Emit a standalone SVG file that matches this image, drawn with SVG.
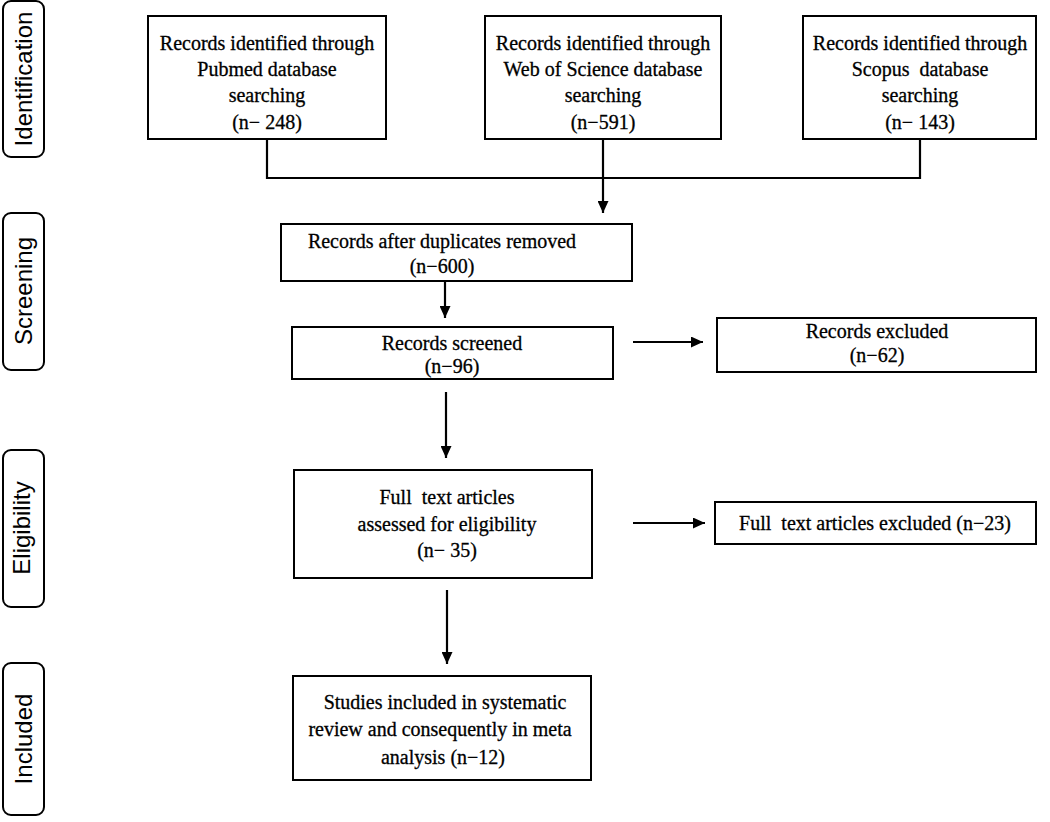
<svg xmlns="http://www.w3.org/2000/svg" width="1050" height="822" viewBox="0 0 1050 822">
<style>
.box{fill:#fff;stroke:#000;stroke-width:2}
.lab{fill:#fff;stroke:#000;stroke-width:2}
.t{font-family:"Liberation Serif","Times New Roman",serif;font-size:20px;fill:#000;stroke:#000;stroke-width:0.3;text-anchor:middle;white-space:pre}
.lt{font-family:"Liberation Sans",Arial,sans-serif;font-size:24px;fill:#000;text-anchor:middle}
.c{fill:none;stroke:#000;stroke-width:2.2}
</style>
<defs>
<marker id="ah" markerUnits="userSpaceOnUse" markerWidth="12" markerHeight="11" refX="12" refY="5.5" orient="auto">
<path d="M0,0 L12,5.5 L0,11 z" fill="#000"/>
</marker>
</defs>
<rect width="1050" height="822" fill="#fff"/>

<g id="label-identification">
<rect class="lab" x="3" y="1" width="41" height="156" rx="8"/>
<text class="lt" transform="translate(32,79) rotate(-90)">Identification</text>
</g>
<g id="label-screening">
<rect class="lab" x="3" y="213" width="41" height="157" rx="8"/>
<text class="lt" transform="translate(32,291) rotate(-90)">Screening</text>
</g>
<g id="label-eligibility">
<rect class="lab" x="3" y="450" width="41" height="157" rx="8"/>
<text class="lt" transform="translate(30,528) rotate(-90)">Eligibility</text>
</g>
<g id="label-included">
<rect class="lab" x="3" y="663" width="41" height="152" rx="8"/>
<text class="lt" transform="translate(32,739) rotate(-90)">Included</text>
</g>

<g id="pubmed">
<rect class="box" x="148" y="16" width="238" height="123"/>
<text class="t" x="267" y="50">Records identified through</text>
<text class="t" x="267" y="76">Pubmed database</text>
<text class="t" x="267" y="102">searching</text>
<text class="t" x="267" y="129">(n− 248)</text>
</g>
<g id="wos">
<rect class="box" x="485" y="16" width="236" height="123"/>
<text class="t" x="603" y="50">Records identified through</text>
<text class="t" x="603" y="76">Web of Science database</text>
<text class="t" x="603" y="102">searching</text>
<text class="t" x="603" y="129">(n−591)</text>
</g>
<g id="scopus">
<rect class="box" x="803" y="16" width="233" height="123"/>
<text class="t" x="920" y="50">Records identified through</text>
<text class="t" x="920" y="76">Scopus  database</text>
<text class="t" x="920" y="102">searching</text>
<text class="t" x="920" y="129">(n− 143)</text>
</g>

<g id="duplicates">
<rect class="box" x="281" y="224" width="351" height="57"/>
<text class="t" x="442" y="248">Records after duplicates removed</text>
<text class="t" x="442" y="273">(n−600)</text>
</g>
<g id="screened">
<rect class="box" x="292" y="327" width="321" height="52"/>
<text class="t" x="452" y="350">Records screened</text>
<text class="t" x="452" y="373">(n−96)</text>
</g>
<g id="excluded">
<rect class="box" x="717" y="318" width="319" height="54"/>
<text class="t" x="877" y="338">Records excluded</text>
<text class="t" x="877" y="362">(n−62)</text>
</g>
<g id="fulltext">
<rect class="box" x="294" y="470" width="298" height="108"/>
<text class="t" x="447" y="504">Full  text articles</text>
<text class="t" x="447" y="531">assessed for eligibility</text>
<text class="t" x="447" y="557">(n− 35)</text>
</g>
<g id="fulltext-excluded">
<rect class="box" x="715" y="502" width="321" height="42"/>
<text class="t" x="875" y="530">Full  text articles excluded (n−23)</text>
</g>
<g id="included">
<rect class="box" x="293" y="676" width="298" height="104"/>
<text class="t" x="445" y="709">Studies included in systematic</text>
<text class="t" x="440" y="736">review and consequently in meta</text>
<text class="t" x="443" y="764">analysis (n−12)</text>
</g>

<g id="connectors">
<polyline class="c" points="267,139 267,178 920,178 920,139"/>
<line class="c" x1="603" y1="139" x2="603" y2="213" marker-end="url(#ah)"/>
<line class="c" x1="445" y1="281" x2="445" y2="318" marker-end="url(#ah)"/>
<line class="c" x1="446" y1="392" x2="446" y2="458" marker-end="url(#ah)"/>
<line class="c" x1="447" y1="590" x2="447" y2="664" marker-end="url(#ah)"/>
<line class="c" x1="633" y1="342" x2="703" y2="342" marker-end="url(#ah)"/>
<line class="c" x1="633" y1="523" x2="705" y2="523" marker-end="url(#ah)"/>
</g>
</svg>
